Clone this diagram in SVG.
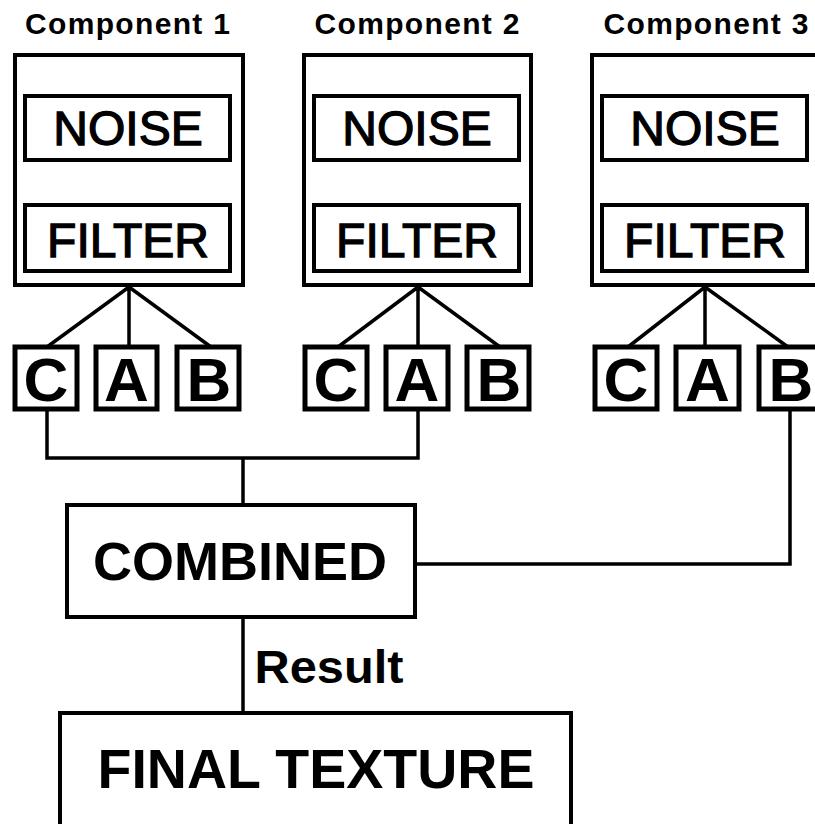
<svg xmlns="http://www.w3.org/2000/svg" width="815" height="824" viewBox="0 0 815 824">
<style>
.box{fill:#fff;stroke:#000;stroke-width:4}
.lbox{fill:#fff;stroke:#000;stroke-width:5}
.ln{fill:none;stroke:#000;stroke-width:3.5;stroke-linejoin:miter}
.title{font-family:"Liberation Sans",Arial,sans-serif;font-weight:bold;font-size:30px;text-anchor:middle;fill:#000}
.big{font-family:"Liberation Sans",Arial,sans-serif;font-size:48px;text-anchor:middle;fill:#000;stroke:#000;stroke-width:1.3}
.let{font-family:"Liberation Sans",Arial,sans-serif;font-weight:bold;font-size:62px;text-anchor:middle;fill:#000}
.bold{font-family:"Liberation Sans",Arial,sans-serif;font-weight:bold;text-anchor:middle;fill:#000}
</style>
<rect width="815" height="824" fill="#fff"/>

<g id="connectors">
  <line class="ln" x1="127" y1="160" x2="127" y2="205"/>
  <line class="ln" x1="417" y1="160" x2="417" y2="205"/>
  <line class="ln" x1="704" y1="160" x2="704" y2="205"/>
  <path class="ln" d="M47,347 L129,287 L211,347 M129,287 V347"/>
  <path class="ln" d="M338,347 L418,287 L500,347 M418,287 V347"/>
  <path class="ln" d="M628,347 L705,287 L788,347 M705,287 V347"/>
  <path class="ln" d="M47,409 V458 H418 V409"/>
  <line class="ln" x1="243" y1="458" x2="243" y2="505"/>
  <path class="ln" d="M415,564 H790 V409"/>
  <line class="ln" x1="243" y1="617" x2="243" y2="713"/>
</g>

<g id="component1">
  <text class="title" x="127.5" y="34" textLength="205" lengthAdjust="spacing">Component 1</text>
  <rect class="box" x="15" y="55" width="228" height="230"/>
  <g id="noise1"><rect class="box" x="25" y="96" width="205" height="64"/><text class="big" x="128" y="145">NOISE</text></g>
  <g id="filter1"><rect class="box" x="25" y="205" width="205" height="66"/><text class="big" x="128" y="257">FILTER</text></g>
</g>
<g id="component2">
  <text class="title" x="417" y="34" textLength="205" lengthAdjust="spacing">Component 2</text>
  <rect class="box" x="304" y="55" width="227" height="230"/>
  <g id="noise2"><rect class="box" x="314" y="96" width="205" height="64"/><text class="big" x="417" y="145">NOISE</text></g>
  <g id="filter2"><rect class="box" x="314" y="205" width="205" height="66"/><text class="big" x="417" y="257">FILTER</text></g>
</g>
<g id="component3">
  <text class="title" x="706" y="34" textLength="205" lengthAdjust="spacing">Component 3</text>
  <rect class="box" x="592" y="55" width="230" height="230"/>
  <g id="noise3"><rect class="box" x="602" y="96" width="205" height="64"/><text class="big" x="705" y="145">NOISE</text></g>
  <g id="filter3"><rect class="box" x="602" y="205" width="205" height="66"/><text class="big" x="705" y="257">FILTER</text></g>
</g>

<g id="c1"><rect class="lbox" x="15" y="347" width="62" height="62"/><text class="let" x="46" y="401">C</text></g>
<g id="a1"><rect class="lbox" x="96" y="347" width="61" height="62"/><text class="let" x="126.5" y="401">A</text></g>
<g id="b1"><rect class="lbox" x="177" y="347" width="62" height="62"/><text class="let" x="209" y="401">B</text></g>

<g id="c2"><rect class="lbox" x="305" y="347" width="62" height="62"/><text class="let" x="336" y="401">C</text></g>
<g id="a2"><rect class="lbox" x="386" y="347" width="62" height="62"/><text class="let" x="417" y="401">A</text></g>
<g id="b2"><rect class="lbox" x="467" y="347" width="62" height="62"/><text class="let" x="499" y="401">B</text></g>

<g id="c3"><rect class="lbox" x="595" y="347" width="62" height="62"/><text class="let" x="626" y="401">C</text></g>
<g id="a3"><rect class="lbox" x="676" y="347" width="63" height="62"/><text class="let" x="707.5" y="401">A</text></g>
<g id="b3"><rect class="lbox" x="759" y="347" width="62" height="62"/><text class="let" x="791" y="401">B</text></g>

<g id="combined">
  <rect class="box" x="67" y="505" width="348" height="112"/>
  <text class="bold" x="240" y="580" font-size="54">COMBINED</text>
</g>
<text class="bold" x="329" y="683" font-size="46" textLength="149" lengthAdjust="spacingAndGlyphs">Result</text>
<g id="final">
  <rect class="box" x="60" y="713" width="511" height="130"/>
  <text class="bold" x="316" y="788" font-size="56" textLength="437" lengthAdjust="spacingAndGlyphs">FINAL TEXTURE</text>
</g>
</svg>
